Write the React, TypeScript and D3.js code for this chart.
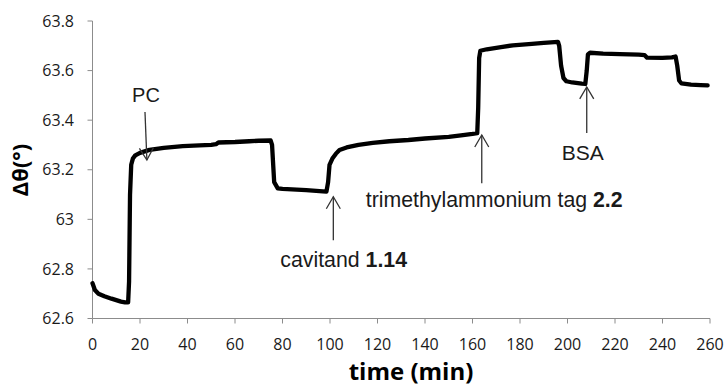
import React from "react";
import * as d3 from "d3";

// Sensor trace: time (min) vs. resonance angle shift Δθ (°)
const timeMin: number[] = [
  0, 1, 2.5, 5, 8, 10, 12, 13.7, 15, 15.4, 15.8, 16.3, 17, 18, 20, 24, 30, 38, 45, 50, 52, 53, 60, 66, 70, 75,
  75.6, 76.5, 78, 80, 90, 97, 98.5, 99.2, 99.8, 101, 102.5, 104, 107, 112, 118, 125, 133, 140, 150, 156, 160, 162,
  162.4, 162.8, 163.3, 166, 172, 177, 185, 190, 196, 196.5, 197.3, 198.3, 199.5, 202, 206, 207.5, 208.1, 208.6,
  209.5, 215, 222, 230, 232.5, 233.5, 240, 244, 245.5, 246.2, 247, 248, 252, 256, 259,
];
const deltaTheta: number[] = [
  62.742, 62.715, 62.7, 62.69, 62.68, 62.674, 62.668, 62.665, 62.665, 62.75, 63.1, 63.22, 63.245, 63.258, 63.268,
  63.28, 63.288, 63.295, 63.298, 63.3, 63.303, 63.31, 63.312, 63.315, 63.317, 63.318,
  63.3, 63.15, 63.125, 63.123, 63.118, 63.113, 63.112, 63.15, 63.22, 63.245, 63.265, 63.28, 63.29, 63.3, 63.308,
  63.315, 63.32, 63.326, 63.333, 63.34, 63.345, 63.348,
  63.45, 63.65, 63.68, 63.686, 63.695, 63.702, 63.708, 63.712, 63.716, 63.7, 63.62, 63.57, 63.557, 63.552, 63.547,
  63.546, 63.6, 63.665, 63.672, 63.668, 63.666, 63.664, 63.662, 63.652, 63.651, 63.653, 63.657, 63.62, 63.56,
  63.548, 63.543, 63.541, 63.54,
];

const xTicks: number[] = [0, 20, 40, 60, 80, 100, 120, 140, 160, 180, 200, 220, 240, 260];
const yTicks: number[] = [62.6, 62.8, 63, 63.2, 63.4, 63.6, 63.8];
const yTickLabels: string[] = ["62.6", "62.8", "63", "63.2", "63.4", "63.6", "63.8"];

// Injection events: arrow from (t, tail) to (t, tip) in data units
const eventNames: string[] = ["PC", "cavitand", "trimethylammonium tag", "BSA"];
const eventBold: string[] = ["", "1.14", "2.2", ""];
const eventTailT: number[] = [22.1, 101.4, 163.9, 208.1];
const eventTipT: number[] = [22.9, 101.4, 163.9, 208.1];
const eventTail: number[] = [63.433, 62.916, 63.146, 63.348];
const eventTip: number[] = [63.239, 63.091, 63.34, 63.534];

export default function App() {
  const W = 727;
  const H = 387;
  const x = d3.scaleLinear().domain([0, 260]).range([92.5, 710]);
  const y = d3.scaleLinear().domain([62.6, 63.8]).range([318.5, 21]);

  const pts: [number, number][] = timeMin.map((t, i) => [t, deltaTheta[i]]);
  const line = d3
    .line<[number, number]>()
    .x((d) => x(d[0]))
    .y((d) => y(d[1]));

  const axisColor = "#8c8c8c";
  const tickFont = "'Open Sans', sans-serif";
  const annFont = "'Liberation Sans', Arial, sans-serif";

  const arrow = (i: number) => {
    const x1 = x(eventTailT[i]);
    const y1 = y(eventTail[i]);
    const x2 = x(eventTipT[i]);
    const y2 = y(eventTip[i]);
    const ang = Math.atan2(y2 - y1, x2 - x1);
    const len = 12;
    const hw = 7;
    const bx = x2 - len * Math.cos(ang);
    const by = y2 - len * Math.sin(ang);
    const px = -Math.sin(ang);
    const py = Math.cos(ang);
    return (
      <g key={"arr" + i} stroke="#333" strokeWidth={1.3} fill="none">
        <line x1={x1} y1={y1} x2={x2} y2={y2} />
        <polyline points={`${bx + px * hw},${by + py * hw} ${x2},${y2} ${bx - px * hw},${by - py * hw}`} />
      </g>
    );
  };

  // label placement for each event, relative to its arrow tail
  const labelAt = [
    { dx: 1, dy: -10, anchor: "middle", size: 20 },
    { dx: -53, dy: 27, anchor: "start", size: 21.3 },
    { dx: -116, dy: 24, anchor: "start", size: 21.3 },
    { dx: -4, dy: 27, anchor: "middle", size: 21 },
  ];

  return (
    <div style={{ position: "fixed", left: 0, top: 0 }}>
      <svg width={W} height={H} style={{ display: "block", background: "#fff" }}>
        {/* axes */}
        <line x1={x(0)} x2={x(0)} y1={y(63.8)} y2={y(62.6)} stroke={axisColor} strokeWidth={1} />
        <line x1={x(0)} x2={x(260)} y1={y(62.6)} y2={y(62.6)} stroke={axisColor} strokeWidth={1} />
        {yTicks.map((v, i) => (
          <g key={"yt" + i}>
            <line x1={x(0) - 5} x2={x(0)} y1={y(v)} y2={y(v)} stroke={axisColor} strokeWidth={1} />
            <text
              x={74}
              y={y(v)}
              dy="0.35em"
              textAnchor="end"
              fontFamily={tickFont}
              fontSize={16}
              fill="#1a1a1a"
            >
              {yTickLabels[i]}
            </text>
          </g>
        ))}
        {xTicks.map((t, i) => (
          <g key={"xt" + i}>
            <line x1={x(t)} x2={x(t)} y1={y(62.6)} y2={y(62.6) + 5} stroke={axisColor} strokeWidth={1} />
            <text x={x(t)} y={350} textAnchor="middle" fontFamily={tickFont} fontSize={16} fill="#1a1a1a">
              {t}
            </text>
          </g>
        ))}

        {/* axis titles */}
        <text x={411} y={380} textAnchor="middle" fontFamily={tickFont} fontWeight="bold" fontSize={24} fill="#000">
          time (min)
        </text>
        <text
          transform="translate(28,170) rotate(-90)"
          textAnchor="middle"
          fontFamily={tickFont}
          fontWeight="bold"
          fontSize={22}
          fill="#000"
        >
          Δθ(°)
        </text>

        {/* trace */}
        <path
          d={line(pts) || ""}
          fill="none"
          stroke="#000"
          strokeWidth={4.3}
          strokeLinejoin="round"
          strokeLinecap="round"
        />

        {/* injection events */}
        {eventNames.map((_, i) => arrow(i))}
        {eventNames.map((name, i) => {
          const L = labelAt[i];
          const ax = x(eventTailT[i]);
          const ay = y(eventTail[i]);
          return (
            <text
              key={"lab" + i}
              x={ax + L.dx}
              y={ay + L.dy}
              textAnchor={L.anchor as any}
              fontFamily={annFont}
              fontSize={L.size}
              fill="#1a1a1a"
            >
              {name}
              {eventBold[i] ? <tspan fontWeight="bold">{" " + eventBold[i]}</tspan> : null}
            </text>
          );
        })}
      </svg>
    </div>
  );
}
